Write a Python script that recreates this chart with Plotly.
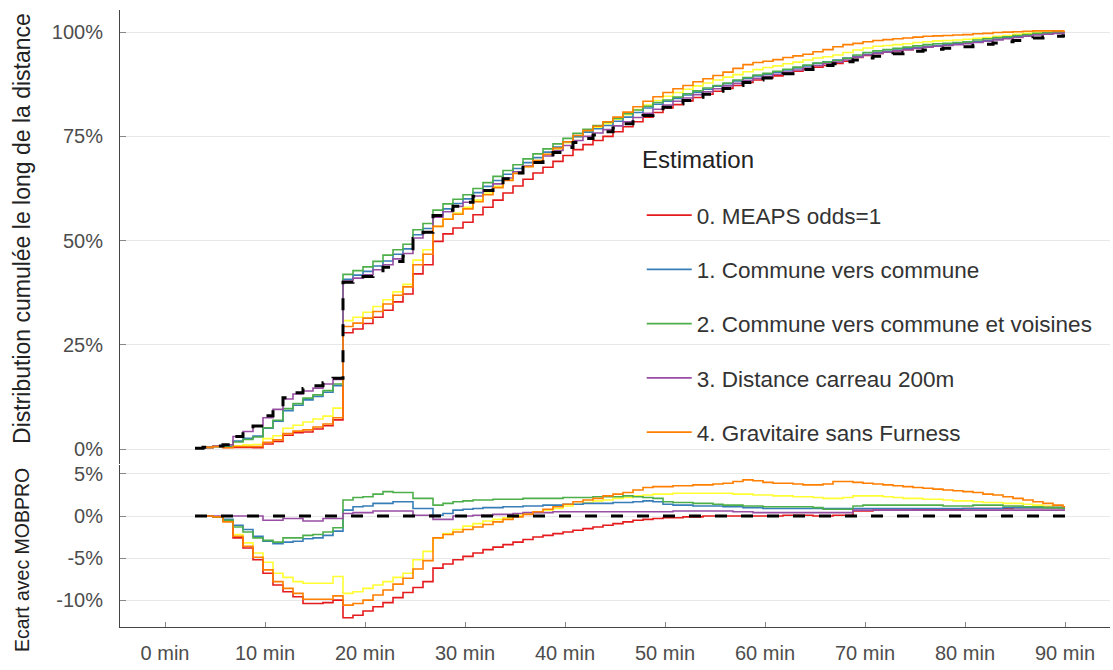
import plotly.graph_objects as go

# Time bins (minutes): first bin starts at 3.0, then steps every minute at x.8, last point closes at 90
TIMES = [3.0] + [round(2.8 + i, 1) for i in range(1, 88)] + [90.0]

# MOBPRO cumulative distribution (%), one value per bin
MOBPRO = [0.2, 0.4, 0.7, 1.0, 3.0, 4.2, 5.5, 8.0, 10.0, 12.3,
          13.5, 14.5, 15.2, 15.9, 17.0, 40.0, 40.6, 41.4, 42.4, 43.6,
          45.0, 46.3, 50.5, 52.0, 56.0, 57.3, 58.2, 59.2, 60.6, 62.0,
          63.4, 64.8, 66.2, 67.5, 68.7, 69.9, 71.1, 72.3, 73.5, 74.5,
          75.3, 76.1, 77.0, 78.0, 79.0, 80.0, 81.0, 82.0, 82.8, 83.6,
          84.4, 85.1, 85.8, 86.5, 87.2, 87.9, 88.5, 89.0, 89.5, 90.0,
          90.5, 91.0, 91.6, 92.0, 92.4, 92.9, 93.3, 93.8, 94.2, 94.5,
          94.8, 95.1, 95.4, 95.7, 95.9, 96.1, 96.3, 96.5, 96.8, 97.1,
          97.4, 97.7, 98.0, 98.3, 98.6, 98.8, 99.0, 99.1]

# Deviation with MOBPRO (percentage points), per estimation
ECART_0 = [0, 0, -0.1, -0.6, -2.6, -3.8, -5.2, -6.8, -8.2, -9.0,
           -9.6, -10.4, -10.4, -10.3, -10.0, -12.1, -11.8, -11.3, -10.8, -10.3,
           -9.7, -9.1, -8.5, -7.8, -6.2, -5.7, -5.2, -4.8, -4.4, -4.0,
           -3.7, -3.4, -3.1, -2.8, -2.5, -2.3, -2.1, -1.9, -1.7, -1.5,
           -1.3, -1.1, -0.9, -0.7, -0.5, -0.4, -0.3, -0.2, -0.2, -0.1,
           -0.1, 0, 0, 0, 0, 0, 0, 0, 0, 0.1,
           0.1, 0.1, 0.0, 0.0, 0.1, 0.1, 0.6, 0.6, 0.7, 0.7,
           0.7, 0.7, 0.8, 0.8, 0.8, 0.8, 0.8, 0.9, 0.9, 0.9,
           0.9, 0.9, 1.0, 1.0, 1.0, 1.0, 1.0, 1.0]
ECART_1 = [0, 0, -0.1, -0.4, -1.1, -1.6, -2.4, -3.0, -3.3, -3.1,
           -3.0, -2.7, -2.6, -2.3, -1.8, 0.7, 1.1, 1.2, 1.5, 1.5,
           1.7, 1.7, 0.9, 0.9, 0.1, 0.3, 0.7, 0.8, 0.9, 1.0,
           1.0, 1.1, 1.1, 1.2, 1.2, 1.3, 1.3, 1.4, 1.4, 1.5,
           1.5, 1.5, 1.6, 1.6, 1.7, 1.8, 1.7, 1.4, 1.3, 1.3,
           1.2, 1.2, 1.2, 1.1, 1.1, 1.0, 1.0, 0.9, 0.9, 0.9,
           0.9, 0.9, 0.9, 0.9, 0.9, 0.9, 0.9, 0.9, 0.9, 0.9,
           0.9, 0.9, 0.9, 0.9, 0.9, 0.9, 0.9, 0.9, 0.9, 0.9,
           0.9, 1.0, 1.0, 1.0, 1.0, 1.0, 1.0, 1.0]
ECART_2 = [0, 0, -0.1, -0.5, -1.3, -1.9, -2.6, -2.9, -3.1, -2.6,
           -2.6, -2.3, -2.2, -1.9, -1.4, 1.9, 2.2, 2.3, 2.6, 2.9,
           2.8, 2.8, 2.1, 2.1, 1.3, 1.5, 1.7, 1.8, 1.9, 1.9,
           2.0, 2.0, 2.0, 2.1, 2.1, 2.1, 2.1, 2.2, 2.2, 2.2,
           2.3, 2.3, 2.3, 2.4, 2.3, 2.2, 2.1, 1.7, 1.6, 1.6,
           1.5, 1.5, 1.4, 1.3, 1.3, 1.2, 1.2, 1.1, 1.1, 1.1,
           1.1, 1.1, 1.0, 0.8, 0.8, 0.8, 1.2, 1.3, 1.3, 1.3,
           1.3, 1.3, 1.3, 1.3, 1.3, 1.2, 1.2, 1.2, 1.3, 1.3,
           1.3, 1.2, 1.2, 1.1, 1.1, 1.0, 1.0, 0.9]
ECART_3 = [0, 0, 0, 0, 0, 0, 0, -0.5, -0.5, -0.3,
           -0.3, -0.6, -0.6, -0.3, -0.3, 0.3, 0.4, 0.4, 0.6, 0.6,
           0.6, 0.6, 0.1, 0.1, -0.4, -0.4, 0.0, 0.0, 0.1, 0.1,
           0.2, 0.2, 0.3, 0.4, 0.4, 0.4, 0.5, 0.5, 0.5, 0.5,
           0.5, 0.5, 0.5, 0.5, 0.5, 0.5, 0.5, 0.5, 0.6, 0.6,
           0.6, 0.6, 0.6, 0.6, 0.5, 0.5, 0.4, 0.4, 0.4, 0.4,
           0.4, 0.4, 0.4, 0.4, 0.4, 0.4, 0.7, 0.7, 0.7, 0.7,
           0.7, 0.7, 0.7, 0.7, 0.7, 0.7, 0.7, 0.7, 0.7, 0.7,
           0.7, 0.7, 0.7, 0.7, 0.7, 0.7, 0.7, 0.7]
ECART_4 = [0, 0, -0.1, -0.7, -2.4, -3.6, -4.9, -6.4, -7.8, -8.6,
           -9.2, -9.9, -9.9, -9.9, -9.5, -10.6, -10.4, -10.0, -9.4, -8.8,
           -8.1, -7.4, -6.3, -5.3, -2.6, -2.2, -1.9, -1.6, -1.3, -1.0,
           -0.7, -0.4, -0.1, 0.2, 0.5, 0.8, 1.1, 1.4, 1.7, 1.9,
           2.1, 2.4, 2.6, 2.8, 3.1, 3.4, 3.5, 3.5, 3.6, 3.6,
           3.7, 3.7, 3.8, 3.9, 4.1, 4.3, 4.2, 4.0, 3.9, 3.9,
           3.8, 3.7, 3.7, 3.8, 4.1, 4.1, 4.0, 3.9, 3.8, 3.7,
           3.6, 3.5, 3.4, 3.3, 3.2, 3.1, 3.0, 2.9, 2.8, 2.6,
           2.5, 2.3, 2.1, 1.9, 1.7, 1.5, 1.3, 1.1]
ECART_5 = [0, 0, -0.1, -0.5, -2.2, -3.2, -4.4, -5.5, -6.8, -7.3,
           -7.8, -8.0, -8.0, -8.0, -7.2, -9.2, -9.0, -8.6, -8.2, -7.8,
           -7.3, -6.8, -5.2, -4.2, -2.6, -2.1, -1.6, -1.2, -0.9, -0.6,
           -0.4, -0.2, 0.1, 0.3, 0.5, 0.7, 0.9, 1.2, 1.4, 1.6,
           1.8, 1.9, 2.1, 2.2, 2.4, 2.5, 2.6, 2.6, 2.7, 2.7,
           2.7, 2.7, 2.7, 2.7, 2.6, 2.6, 2.5, 2.5, 2.4, 2.4,
           2.3, 2.3, 2.2, 2.1, 2.1, 2.2, 2.4, 2.4, 2.4, 2.3,
           2.2, 2.1, 2.1, 2.0, 2.0, 1.9, 1.8, 1.8, 1.7, 1.6,
           1.6, 1.5, 1.5, 1.4, 1.3, 1.2, 1.0, 0.9]

NAMES = ["0. MEAPS odds=1", "1. Commune vers commune",
         "2. Commune vers commune et voisines", "3. Distance carreau 200m",
         "4. Gravitaire sans Furness", "5. Gravitaire"]
COLORS = ["#E41A1C", "#377EB8", "#4DAF4A", "#984EA3", "#FF7F00", "#FFFF33"]
ECARTS = [ECART_0, ECART_1, ECART_2, ECART_3, ECART_4, ECART_5]
IN_LEGEND = [True, True, True, True, True, False]

X_TICKS = [0, 10, 20, 30, 40, 50, 60, 70, 80, 90]
Y_TICKS_TOP = [0, 25, 50, 75, 100]
Y_TICKS_BOT = [-10, -5, 0, 5]

FONT = "Liberation Sans, Arial, sans-serif"


def close(vals):
    return list(vals) + [vals[-1]]


fig = go.Figure()
order = [5, 0, 1, 2, 3, 4]
for k in order:
    name, color, dev, show = NAMES[k], COLORS[k], ECARTS[k], IN_LEGEND[k]
    top = [round(m + d, 2) for m, d in zip(MOBPRO, dev)]
    fig.add_trace(go.Scatter(x=TIMES, y=close(top), mode="lines", name=name,
                             legendgroup=name, showlegend=show, legendrank=k,
                             line=dict(color=color, width=1.6, shape="hv"),
                             xaxis="x", yaxis="y"))
    fig.add_trace(go.Scatter(x=TIMES, y=close(dev), mode="lines", name=name,
                             legendgroup=name, showlegend=False,
                             line=dict(color=color, width=1.6, shape="hv"),
                             xaxis="x", yaxis="y2"))

ref_dev = [m - m for m in MOBPRO]
fig.add_trace(go.Scatter(x=TIMES, y=close(MOBPRO), mode="lines", name="MOBPRO",
                         showlegend=False,
                         line=dict(color="black", width=3, dash="12px,14px", shape="hv"),
                         xaxis="x", yaxis="y"))
fig.add_trace(go.Scatter(x=TIMES, y=close(ref_dev), mode="lines", name="MOBPRO",
                         showlegend=False,
                         line=dict(color="black", width=3, dash="12px,14px", shape="hv"),
                         xaxis="x", yaxis="y2"))

grid = "#e8e8e8"
fig.update_layout(
    width=1113, height=670,
    margin=dict(l=120, r=3, t=10, b=43, autoexpand=False),
    paper_bgcolor="white", plot_bgcolor="white",
    font=dict(family=FONT, color="#333333"),
    showlegend=True,
    xaxis=dict(anchor="y2", range=[-4.5, 94.5], tickvals=X_TICKS,
               ticktext=[f"{v} min" for v in X_TICKS],
               showgrid=False, zeroline=False, showline=True, linecolor="#444",
               linewidth=1, ticks="inside", ticklen=5, tickcolor="#888",
               tickfont=dict(size=20, color="#4d4d4d"), ticklabelstandoff=8),
    yaxis=dict(domain=[0.2648, 1.0], range=[-3.5, 105.3], tickvals=Y_TICKS_TOP,
               ticktext=[f"{v}%" for v in Y_TICKS_TOP],
               showgrid=True, gridcolor=grid, zeroline=False, showline=True,
               linecolor="#444", linewidth=1, ticks="inside", ticklen=6,
               tickcolor="#888", tickfont=dict(size=20, color="#4d4d4d"),
               ticklabelstandoff=12),
    yaxis2=dict(domain=[0.0, 0.2626], range=[-13.2, 6.07], tickvals=Y_TICKS_BOT,
                ticktext=[f"{v}%" for v in Y_TICKS_BOT],
                showgrid=True, gridcolor=grid, zeroline=False, showline=True,
                linecolor="#444", linewidth=1, ticks="inside", ticklen=6,
                tickcolor="#888", tickfont=dict(size=20, color="#4d4d4d"),
                ticklabelstandoff=12),
    legend=dict(x=0.527, y=0.7018, xanchor="left", yanchor="top",
                bgcolor="rgba(0,0,0,0)", tracegroupgap=22, itemwidth=45,
                font=dict(size=22.5, color="#333")),
    annotations=[
        dict(text="Estimation", x=0.5253, y=0.7569, xref="paper", yref="paper",
             xanchor="left", yanchor="middle", showarrow=False,
             font=dict(size=24, color="#222")),
        dict(text="Distribution cumulée le long de la distance", x=-0.099, y=0.6467,
             xref="paper", yref="paper", xanchor="center", yanchor="middle",
             textangle=-90, showarrow=False, font=dict(size=23, color="#222")),
        dict(text="Ecart avec MOBPRO", x=-0.099, y=0.1086,
             xref="paper", yref="paper", xanchor="center", yanchor="middle",
             textangle=-90, showarrow=False, font=dict(size=19.5, color="#222")),
    ],
)

fig.write_html("out.html")
